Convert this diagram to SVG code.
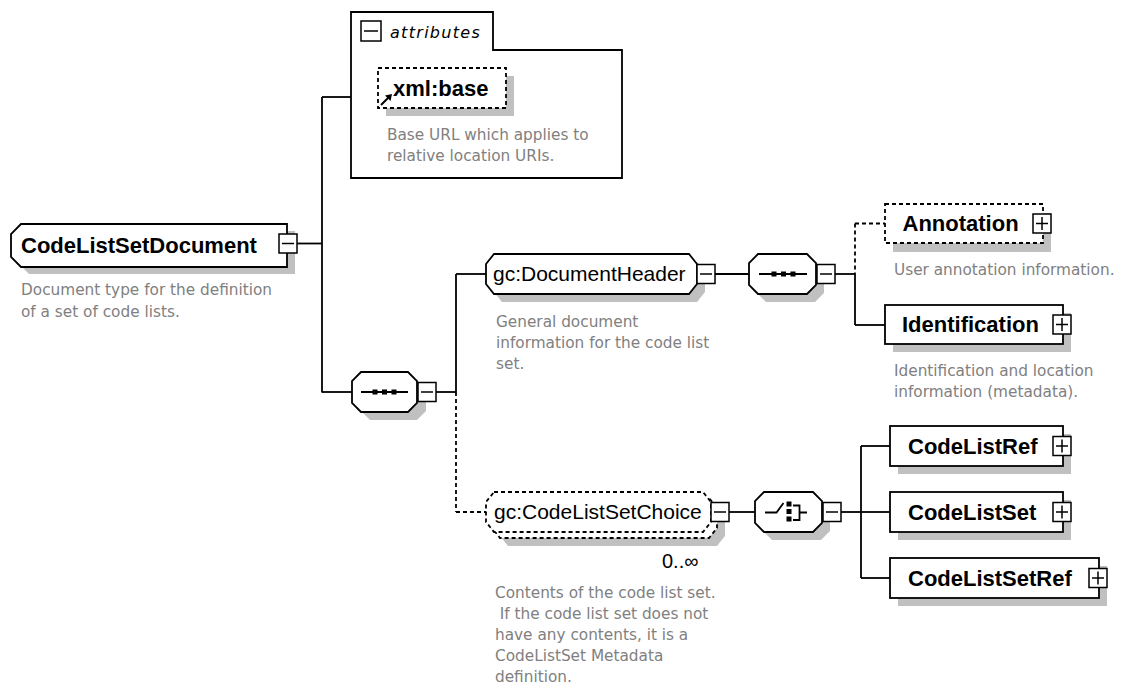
<svg xmlns="http://www.w3.org/2000/svg" width="1122" height="688" viewBox="0 0 1122 688">
<style>
.ln{stroke:#000;stroke-width:1.8;fill:none}
.dl{stroke:#000;stroke-width:1.8;fill:none;stroke-dasharray:4 3}
.box{fill:#fff;stroke:#000;stroke-width:1.8}
.dbox{fill:#fff;stroke:#000;stroke-width:1.8;stroke-dasharray:4 3}
.sh{fill:#c0c0c0}
.tg{fill:#fff;stroke:#000;stroke-width:1.5}
.tl{stroke:#000;stroke-width:1.5}
.nm{font-family:"Liberation Sans",Arial,sans-serif;font-size:22px;font-weight:bold;fill:#000}
.nr{font-family:"Liberation Sans",Arial,sans-serif;font-size:21px;fill:#000}
.ds{font-family:"DejaVu Sans",Verdana,sans-serif;font-size:15.3px;fill:#808080}
.it{font-family:"DejaVu Sans",Verdana,sans-serif;font-size:16px;font-style:italic;letter-spacing:1.3px;fill:#000}
.oc{font-family:"Liberation Sans",Arial,sans-serif;font-size:20px;fill:#000}
</style>
<rect width="1122" height="688" fill="#fff"/>
<g id="connectors">
<line class="ln" x1="297" y1="243.5" x2="322" y2="243.5"/>
<line class="ln" x1="322" y1="97" x2="322" y2="392.5"/>
<line class="ln" x1="322" y1="97" x2="351" y2="97"/>
<line class="ln" x1="322" y1="392" x2="352" y2="392"/>
<line class="ln" x1="436" y1="392" x2="456" y2="392"/>
<line class="ln" x1="456" y1="274" x2="456" y2="392"/>
<line class="dl" x1="456" y1="392" x2="456" y2="512"/>
<line class="ln" x1="456" y1="274" x2="486" y2="274"/>
<line class="dl" x1="456" y1="512" x2="486" y2="512"/>
<line class="ln" x1="715" y1="274" x2="749" y2="274"/>
<line class="ln" x1="835" y1="274" x2="855" y2="274"/>
<line class="dl" x1="855" y1="223.5" x2="855" y2="274"/>
<line class="ln" x1="855" y1="274" x2="855" y2="325"/>
<line class="dl" x1="855" y1="223.5" x2="885" y2="223.5"/>
<line class="ln" x1="855" y1="325" x2="885" y2="325"/>
<line class="ln" x1="729" y1="512" x2="755" y2="512"/>
<line class="ln" x1="841" y1="512" x2="861" y2="512"/>
<line class="ln" x1="861" y1="446" x2="861" y2="578"/>
<line class="ln" x1="861" y1="446" x2="890" y2="446"/>
<line class="ln" x1="861" y1="512" x2="890" y2="512"/>
<line class="ln" x1="861" y1="578" x2="890" y2="578"/>
</g>
<g id="CodeListSetDocument">
<polygon class="sh" transform="translate(8,7)" points="21,224 287,224 287,267 21,267 11,257 11,234"/>
<polygon class="box" points="21,224 287,224 287,267 21,267 11,257 11,234"/>
<text class="nm" x="21" y="252.5">CodeListSetDocument</text>
<rect class="tg" x="279" y="234" width="18" height="19"/>
<line class="tl" x1="282" y1="243.5" x2="294" y2="243.5"/>
<text class="ds" x="21" y="295">Document type for the definition</text>
<text class="ds" x="21" y="317">of a set of code lists.</text>
</g>
<g id="attributes">
<path class="box" d="M351,178 V12 H493 V50 H622 V178 Z"/>
<rect class="tg" x="361" y="21" width="20" height="20"/>
<line class="tl" x1="364" y1="31" x2="378" y2="31"/>
<text class="it" x="390" y="37.5">attributes</text>
</g>
<g id="xml-base">
<rect class="sh" x="386" y="76" width="128" height="40"/>
<rect class="dbox" x="378" y="68" width="128" height="40"/>
<text class="nm" x="393" y="95.5">xml:base</text>
<line x1="381" y1="105" x2="389" y2="97" stroke="#000" stroke-width="2"/>
<polygon points="392,94 385,95.5 390.5,101" fill="#000"/>
<text class="ds" x="387" y="139.5">Base URL which applies to</text>
<text class="ds" x="387" y="161">relative location URIs.</text>
</g>
<g id="sequence1">
<polygon class="sh" transform="translate(9,8)" points="361,372 408,372 417,381 417,403 408,412 361,412 352,403 352,381"/>
<polygon class="box" points="361,372 408,372 417,381 417,403 408,412 361,412 352,403 352,381"/>
<line class="ln" x1="361" y1="392" x2="408" y2="392"/>
<rect x="372.5" y="389.5" width="5" height="5"/>
<rect x="382" y="389.5" width="5" height="5"/>
<rect x="391.5" y="389.5" width="5" height="5"/>
<rect class="tg" x="418" y="382.5" width="18" height="19"/>
<line class="tl" x1="421" y1="392" x2="433" y2="392"/>
</g>
<g id="DocumentHeader">
<polygon class="sh" transform="translate(8,8)" points="494,254 689,254 697,264 697,284 689,294 494,294 486,284 486,264"/>
<polygon class="box" points="494,254 689,254 697,264 697,284 689,294 494,294 486,284 486,264"/>
<text class="nr" x="493" y="281">gc:DocumentHeader</text>
<rect class="tg" x="697" y="264.5" width="18" height="19"/>
<line class="tl" x1="700" y1="274" x2="712" y2="274"/>
<text class="ds" x="496" y="327">General document</text>
<text class="ds" x="496" y="348">information for the code list</text>
<text class="ds" x="496" y="369">set.</text>
</g>
<g id="sequence2">
<polygon class="sh" transform="translate(8,8)" points="758,254 807,254 816,263 816,285 807,294 758,294 749,285 749,263"/>
<polygon class="box" points="758,254 807,254 816,263 816,285 807,294 758,294 749,285 749,263"/>
<line class="ln" x1="759" y1="274" x2="807" y2="274"/>
<rect x="771.5" y="271.5" width="5" height="5"/>
<rect x="781" y="271.5" width="5" height="5"/>
<rect x="790.5" y="271.5" width="5" height="5"/>
<rect class="tg" x="817" y="264.5" width="18" height="19"/>
<line class="tl" x1="820" y1="274" x2="832" y2="274"/>
</g>
<g id="Annotation">
<rect class="sh" x="893" y="213" width="158" height="39"/>
<rect class="dbox" x="885" y="204" width="158" height="39"/>
<text class="nm" x="902.5" y="231">Annotation</text>
<rect class="tg" x="1033" y="214" width="18" height="19"/>
<line class="tl" x1="1036" y1="223.5" x2="1048" y2="223.5"/>
<line class="tl" x1="1042" y1="217" x2="1042" y2="230"/>
<text class="ds" x="894" y="274.5">User annotation information.</text>
</g>
<g id="Identification">
<rect class="sh" x="893" y="313" width="178" height="39"/>
<rect class="box" x="885" y="305" width="178" height="39"/>
<text class="nm" x="902" y="332">Identification</text>
<rect class="tg" x="1053" y="315" width="18" height="19"/>
<line class="tl" x1="1056" y1="324.5" x2="1068" y2="324.5"/>
<line class="tl" x1="1062" y1="318" x2="1062" y2="331"/>
<text class="ds" x="894" y="375.5">Identification and location</text>
<text class="ds" x="894" y="397">information (metadata).</text>
</g>
<g id="CodeListSetChoice">
<polygon class="sh" transform="translate(14,14)" points="494,492 703,492 711,502 711,522 703,532 494,532 486,522 486,502"/>
<polygon class="dbox" transform="translate(6,6)" points="494,492 703,492 711,502 711,522 703,532 494,532 486,522 486,502"/>
<polygon class="dbox" points="494,492 703,492 711,502 711,522 703,532 494,532 486,522 486,502"/>
<text class="nr" x="494" y="519">gc:CodeListSetChoice</text>
<rect class="tg" x="711" y="502.5" width="18" height="19"/>
<line class="tl" x1="714" y1="512" x2="726" y2="512"/>
<text class="oc" x="662" y="568">0..∞</text>
<text class="ds" x="495" y="598">Contents of the code list set.</text>
<text class="ds" x="495" y="619" xml:space="preserve"> If the code list set does not</text>
<text class="ds" x="495" y="640">have any contents, it is a</text>
<text class="ds" x="495" y="661">CodeListSet Metadata</text>
<text class="ds" x="495" y="682">definition.</text>
</g>
<g id="choice">
<polygon class="sh" transform="translate(8,8)" points="764,492 813,492 822,501 822,523 813,532 764,532 755,523 755,501"/>
<polygon class="box" points="764,492 813,492 822,501 822,523 813,532 764,532 755,523 755,501"/>
<polyline class="ln" points="765,512.5 776.5,512.5 783.5,503"/>
<rect x="786.5" y="501.5" width="5" height="5"/>
<rect x="786.5" y="509" width="5" height="5"/>
<rect x="786.5" y="516.5" width="5" height="5"/>
<path class="ln" d="M793,505.5 H799.5 V520 H793 M799.5,512.5 H807"/>
<rect class="tg" x="823" y="502.5" width="18" height="19"/>
<line class="tl" x1="826" y1="512" x2="838" y2="512"/>
</g>
<g id="CodeListRef">
<rect class="sh" x="898" y="434" width="173" height="40"/>
<rect class="box" x="890" y="426" width="173" height="40"/>
<text class="nm" x="908" y="453.5">CodeListRef</text>
<rect class="tg" x="1053" y="436.5" width="18" height="19"/>
<line class="tl" x1="1056" y1="446" x2="1068" y2="446"/>
<line class="tl" x1="1062" y1="439.5" x2="1062" y2="452.5"/>
</g>
<g id="CodeListSet">
<rect class="sh" x="898" y="500" width="173" height="40"/>
<rect class="box" x="890" y="492" width="173" height="40"/>
<text class="nm" x="908" y="519.5">CodeListSet</text>
<rect class="tg" x="1053" y="502.5" width="18" height="19"/>
<line class="tl" x1="1056" y1="512" x2="1068" y2="512"/>
<line class="tl" x1="1062" y1="505.5" x2="1062" y2="518.5"/>
</g>
<g id="CodeListSetRef">
<rect class="sh" x="898" y="566" width="209" height="40"/>
<rect class="box" x="890" y="558" width="209" height="40"/>
<text class="nm" x="908" y="585.5">CodeListSetRef</text>
<rect class="tg" x="1089" y="568.5" width="18" height="19"/>
<line class="tl" x1="1092" y1="578" x2="1104" y2="578"/>
<line class="tl" x1="1098" y1="571.5" x2="1098" y2="584.5"/>
</g>
</svg>
